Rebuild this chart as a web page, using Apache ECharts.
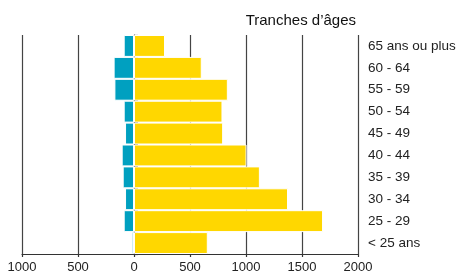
<!DOCTYPE html>
<html lang="fr">
<head>
    <meta charset="UTF-8">
    <title>Tranches d'âges</title>
    <script src="https://cdn.jsdelivr.net/npm/echarts@6/dist/echarts.min.js"></script>
    <style>
        html, body { margin: 0; padding: 0; background: #fff; }
        #chart { width: 459px; height: 277px; }
    </style>
</head>
<body>
    <div id="chart"></div>
    <script>
        // tranches d'âges, du bas vers le haut
        const categories = ['< 25 ans', '25 - 29', '30 - 34', '35 - 39', '40 - 44', '45 - 49', '50 - 54', '55 - 59', '60 - 64', '65 ans ou plus'];
        // valeurs côté gauche (bleu), affichées en négatif
        const leftValues = [20, 92, 80, 101, 110, 80, 92, 175, 182, 92];
        // valeurs côté droit (jaune)
        const rightValues = [659, 1688, 1375, 1124, 1005, 796, 790, 838, 605, 277];
        const xTicks = [-1000, 2000, 500];

        const font = '"Liberation Sans Narrow", "Liberation Sans", sans-serif';
        const chart = echarts.init(document.getElementById('chart'));

        const option = {
            animation: false,
            title: {
                text: 'Tranches d\u2019âges',
                right: 98,
                top: 8,
                textStyle: { fontFamily: font, fontSize: 15, fontWeight: 500, color: '#111' }
            },
            grid: { left: 22, right: 101, top: 35, bottom: 23, outerBoundsMode: 'none' },
            xAxis: {
                type: 'value',
                min: xTicks[0],
                max: xTicks[1],
                interval: xTicks[2],
                axisLine: { show: true, lineStyle: { color: '#333', width: 1.2 } },
                axisTick: { show: true, length: 3, lineStyle: { color: '#333', width: 1.2 } },
                axisLabel: {
                    fontFamily: font, fontSize: 13, color: '#222', margin: 7,
                    formatter: v => String(Math.abs(v))
                },
                splitLine: { show: true, lineStyle: { color: '#444', width: 1.2 } }
            },
            yAxis: {
                type: 'category',
                position: 'right',
                data: categories,
                axisLine: { show: true, lineStyle: { color: '#333', width: 1.2 } },
                axisTick: { show: true, length: 4, lineStyle: { color: '#333', width: 1.2 } },
                axisLabel: { fontFamily: font, fontSize: 13.5, color: '#222', margin: 10 },
                splitLine: { show: false }
            },
            series: [
                {
                    type: 'bar',
                    data: leftValues.map(v => -v),
                    barWidth: '100%',
                    barGap: '-100%',
                    itemStyle: { color: '#00a0c0', borderColor: '#fff', borderWidth: 1 }
                },
                {
                    type: 'bar',
                    data: rightValues,
                    barWidth: '100%',
                    itemStyle: { color: '#ffd700', borderColor: '#fff', borderWidth: 1 }
                }
            ]
        };

        chart.setOption(option);
    </script>
</body>
</html>
